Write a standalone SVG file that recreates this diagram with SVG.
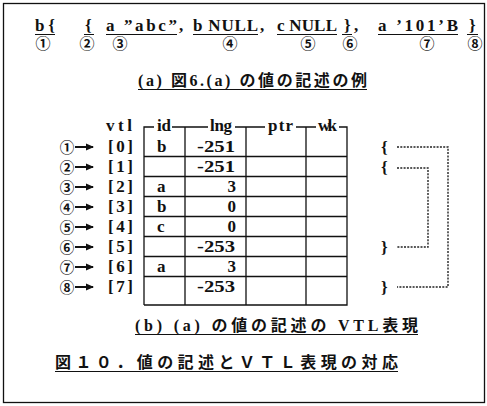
<svg xmlns="http://www.w3.org/2000/svg" width="487" height="406" viewBox="0 0 487 406">
<defs>
  <marker id="ah" viewBox="0 0 8 8" refX="7" refY="4" markerWidth="8" markerHeight="8" markerUnits="userSpaceOnUse" orient="auto">
    <path d="M0,0.5 L8,4 L0,7.5 Z" fill="#111"/>
  </marker>
</defs>
<style>
  .t { font-family: "Liberation Serif", "Noto Sans CJK JP", serif; font-size: 17px; font-weight: bold; fill: #111; }
  .j { font-family: "Liberation Serif", "Noto Sans CJK JP", sans-serif; font-size: 16px; font-weight: bold; fill: #111; }
  .c { font-family: "Noto Sans CJK JP", "DejaVu Sans", sans-serif; font-size: 15px; font-weight: bold; fill: #111; text-anchor: middle; }
  .cs { font-size: 14.5px; }
  .ln { stroke: #111; stroke-width: 1.3; fill: none; }
  .ar { stroke: #111; stroke-width: 2; fill: none; marker-end: url(#ah); }
  .ul { stroke: #111; stroke-width: 1.2; fill: none; }
  .dot { stroke: #222; stroke-width: 1.4; fill: none; stroke-dasharray: 2 1.3; }
  .r { text-anchor: end; }
</style>
<rect x="0" y="0" width="487" height="406" fill="#fff"/>
<rect x="3.5" y="3.5" width="481" height="399" class="ln"/>

<g id="value-notation">
  <text class="t" x="35" y="31" textLength="20" lengthAdjust="spacing">b{</text>
  <text class="t" x="85" y="31">{</text>
  <text class="t" x="106" y="31" textLength="71" lengthAdjust="spacing">a ”abc”</text>
  <text class="t" x="179" y="31">,</text>
  <text class="t" x="193" y="31" textLength="65" lengthAdjust="spacing">b NULL</text>
  <text class="t" x="260" y="31">,</text>
  <text class="t" x="277" y="31" textLength="60" lengthAdjust="spacing">c NULL</text>
  <text class="t" x="344" y="31">}</text>
  <text class="t" x="354" y="31">,</text>
  <text class="t" x="378" y="31" textLength="80" lengthAdjust="spacing">a ’101’B</text>
  <text class="t" x="469" y="31">}</text>
  <path class="ul" d="M35,34.5H55 M84,34.5H94 M106,34.5H177 M193,34.5H258 M277,34.5H337 M342,34.5H352 M378,34.5H458 M467,34.5H478"/>
  <text class="c" x="43" y="49">①</text>
  <text class="c" x="87" y="49">②</text>
  <text class="c" x="120" y="49">③</text>
  <text class="c" x="230" y="49">④</text>
  <text class="c" x="308" y="49">⑤</text>
  <text class="c" x="350" y="49">⑥</text>
  <text class="c" x="427" y="49">⑦</text>
  <text class="c" x="475" y="49">⑧</text>
</g>

<g id="caption-a">
  <text class="j" x="138" y="86" textLength="229" lengthAdjust="spacing">(a) 図6.(a) の値の記述の例</text>
  <path class="ul" d="M138,89.5H367"/>
</g>

<g id="vtl-labels">
  <text class="t" x="106" y="131" textLength="26" lengthAdjust="spacing">vtl</text>
  <g class="c cs"><text x="67" y="152.5">①</text><text x="67" y="172.5">②</text><text x="67" y="192.5">③</text><text x="67" y="212.5">④</text><text x="67" y="232.5">⑤</text><text x="67" y="252.5">⑥</text><text x="67" y="272.5">⑦</text><text x="67" y="292.5">⑧</text></g>
  <line class="ar" x1="75" y1="147" x2="93" y2="147"/>
  <line class="ar" x1="75" y1="167" x2="93" y2="167"/>
  <line class="ar" x1="75" y1="187" x2="93" y2="187"/>
  <line class="ar" x1="75" y1="207" x2="93" y2="207"/>
  <line class="ar" x1="75" y1="227" x2="93" y2="227"/>
  <line class="ar" x1="75" y1="247" x2="93" y2="247"/>
  <line class="ar" x1="75" y1="267" x2="93" y2="267"/>
  <line class="ar" x1="75" y1="287" x2="93" y2="287"/>
  <g class="t"><text x="108" y="152" textLength="25" lengthAdjust="spacing">[0]</text><text x="108" y="172" textLength="25" lengthAdjust="spacing">[1]</text><text x="108" y="192" textLength="25" lengthAdjust="spacing">[2]</text><text x="108" y="212" textLength="25" lengthAdjust="spacing">[3]</text><text x="108" y="232" textLength="25" lengthAdjust="spacing">[4]</text><text x="108" y="252" textLength="25" lengthAdjust="spacing">[5]</text><text x="108" y="272" textLength="25" lengthAdjust="spacing">[6]</text><text x="108" y="292" textLength="25" lengthAdjust="spacing">[7]</text></g>
</g>

<g id="vtl-table">
  <path class="ln" d="M144,305V127H154 M172,127H208 M235,127H265 M296,127H316 M339,127H347V305H144 M185,127V305 M246,127V305 M306,127V305"/>
  <path class="ln" d="M144,156.5H347 M144,176.5H347 M144,196.5H347 M144,216.5H347 M144,236.5H347 M144,256.5H347 M144,276.5H347"/>
  <text class="t" x="157" y="131" textLength="14" lengthAdjust="spacing">id</text>
  <text class="t" x="210" y="131" textLength="22" lengthAdjust="spacing">lng</text>
  <text class="t" x="268" y="131" textLength="25" lengthAdjust="spacing">ptr</text>
  <text class="t" x="318" y="131" textLength="19" lengthAdjust="spacing">wk</text>
  <g class="t">
    <text x="157" y="152">b</text>
    <text x="157" y="192">a</text>
    <text x="157" y="212">b</text>
    <text x="157" y="232">c</text>
    <text x="157" y="272">a</text>
  </g>
  <g class="t">
    <text x="197" y="152" textLength="38" lengthAdjust="spacingAndGlyphs">-251</text>
    <text x="197" y="172" textLength="38" lengthAdjust="spacingAndGlyphs">-251</text>
    <text class="t r" x="236" y="192">3</text>
    <text class="t r" x="236" y="212">0</text>
    <text class="t r" x="236" y="232">0</text>
    <text x="197" y="252" textLength="38" lengthAdjust="spacingAndGlyphs">-253</text>
    <text class="t r" x="236" y="272">3</text>
    <text x="197" y="292" textLength="38" lengthAdjust="spacingAndGlyphs">-253</text>
  </g>
</g>

<g id="braces">
  <text class="t" x="381" y="153">{</text>
  <text class="t" x="381" y="173">{</text>
  <text class="t" x="381" y="253">}</text>
  <text class="t" x="381" y="293">}</text>
</g>

<g id="connectors">
  <path class="dot" d="M397,147H448V287H397"/>
  <path class="dot" d="M397,168H428V247H397"/>
</g>

<g id="caption-b">
  <text class="j" x="135" y="331" textLength="283" lengthAdjust="spacing">(b) (a) の値の記述の VTL表現</text>
  <path class="ul" d="M135,334.5H418"/>
</g>

<g id="figure-title">
  <text class="j" x="55" y="368" font-size="17" textLength="343" lengthAdjust="spacing">図１０．値の記述とＶＴＬ表現の対応</text>
  <path class="ul" d="M55,371.5H398"/>
</g>
</svg>
